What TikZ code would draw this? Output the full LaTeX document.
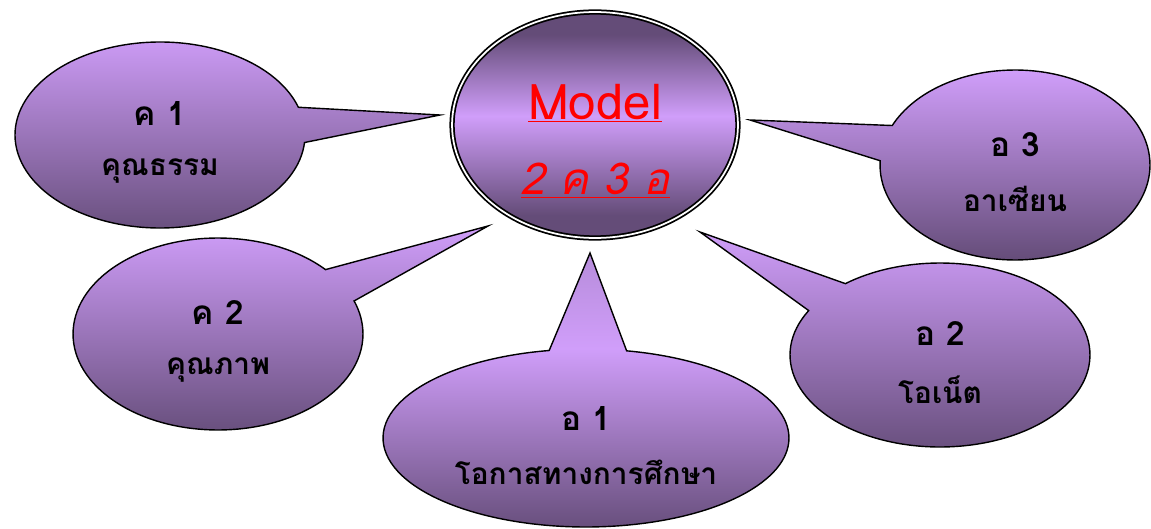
\documentclass[tikz,border=0pt]{standalone}
\usepackage{fontspec}
\setmainfont{Loma}[Script=Thai]
\usepackage{tikz}
\usetikzlibrary{shapes.geometric, shapes.callouts, positioning}
\usepackage{xcolor}
\definecolor{lilas}{RGB}{208,158,250}
\definecolor{prune}{RGB}{100,76,120}
\definecolor{mauve}{RGB}{182,140,218}
\pgfdeclareverticalshading{degrade}{100bp}{color(0bp)=(prune); color(25bp)=(prune); color(75bp)=(lilas); color(100bp)=(lilas)}
\pgfdeclareverticalshading{degradehaut}{100bp}{color(0bp)=(prune); color(25bp)=(prune); color(58bp)=(lilas); color(75bp)=(mauve); color(100bp)=(mauve)}
\pgfdeclareverticalshading{degradecentre}{100bp}{color(0bp)=(prune); color(30bp)=(prune); color(52bp)=(lilas); color(70bp)=(prune); color(100bp)=(prune)}
\tikzstyle{bulle} = [ellipse callout, draw = black, line width = 0.8pt, shading = degrade, callout pointer arc = 22, align = center]
\tikzstyle{rouge} = [text = red, font = \fontsize{25}{30}\selectfont]
\newcommand{\duo}[2]{{\fontsize{19}{23}\selectfont\bfseries\rule{0pt}{22pt}#1}\\[16pt]{\fontsize{17}{21}\selectfont\bfseries #2}}

\begin{document}
\begin{tikzpicture}[x = 0.02cm, y = 0.02cm]
\useasboundingbox (0,0) rectangle (1151,528);

\node (0) [ellipse, draw = black, line width = 1pt, double = white, double distance = 1pt, shading = degradecentre, minimum width = 5.72cm, minimum height = 4.52cm] at (595,403) {};
\node (m1) [rouge, font = \fontsize{28}{32}\selectfont, above = -0.08cm of 0.center] {\underline{Model}};
\node (m2) [rouge, below = 0.63cm of 0.center] {\itshape\underline{2 ค 3 อ}};

\coordinate (t1) at (440,413);
\coordinate (t2) at (488,302);
\coordinate (t3) at (590,275);
\coordinate (t4) at (700,296);
\coordinate (t5) at (750,408);

\node (1) [bulle, callout absolute pointer = {(t1)}, minimum width = 5.8cm, minimum height = 3.72cm] at (160,393) {\duo{ค 1}{คุณธรรม}};
\node (2) [bulle, callout absolute pointer = {(t2)}, minimum width = 5.8cm, minimum height = 3.84cm] at (218,194) {\duo{ค 2}{คุณภาพ}};
\node (3) [bulle, shading = degradehaut, callout absolute pointer = {(t3)}, minimum width = 8.12cm, minimum height = 3.56cm] at (586,90) {\duo{อ 1}{โอกาสทางการศึกษา}};
\node (4) [bulle, callout absolute pointer = {(t4)}, minimum width = 6cm, minimum height = 3.68cm] at (940,173) {\duo{อ 2}{โอเน็ต}};
\node (5) [bulle, callout absolute pointer = {(t5)}, minimum width = 5.4cm, minimum height = 3.8cm] at (1015,363) {\duo{อ 3}{อาเซียน}};

\end{tikzpicture}
\end{document}
